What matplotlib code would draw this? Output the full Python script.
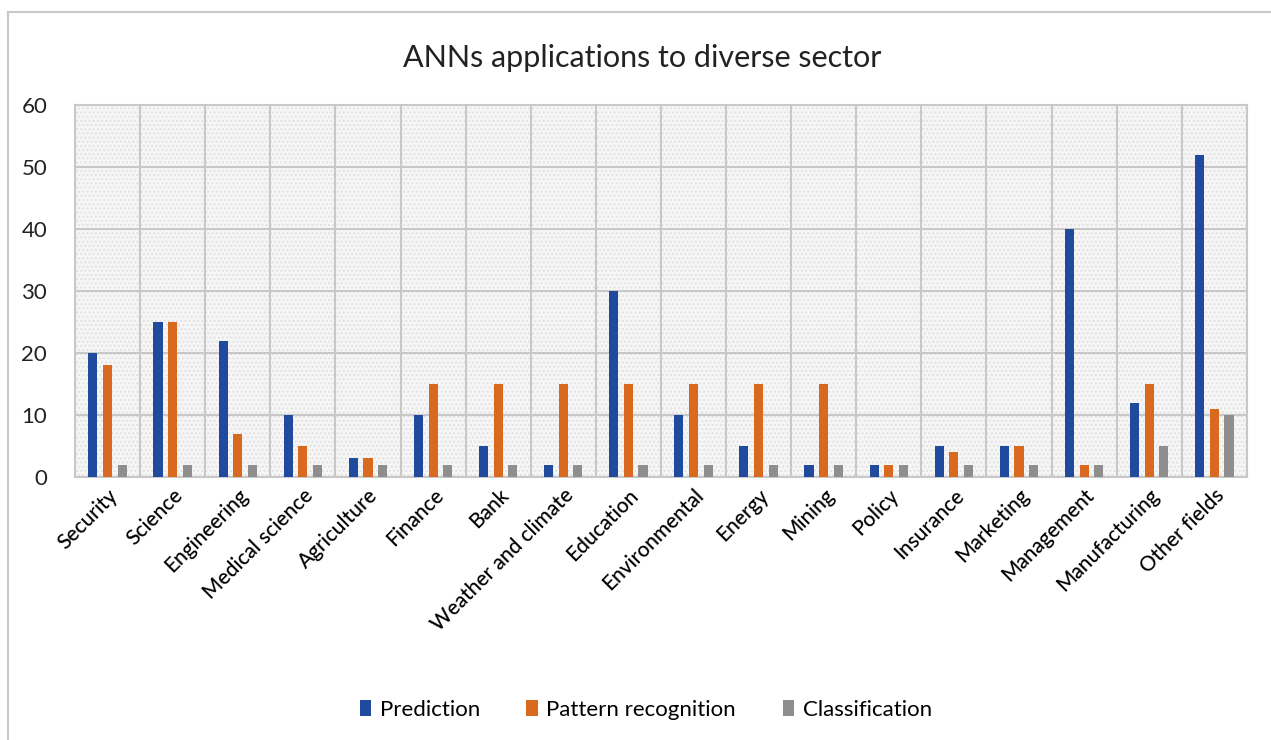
import numpy as np
import matplotlib.pyplot as plt
from matplotlib.patches import Rectangle
from matplotlib.lines import Line2D

plt.rcParams['font.family'] = ['Lato', 'DejaVu Sans']

sectors = ['Security', 'Science', 'Engineering', 'Medical science', 'Agriculture',
           'Finance', 'Bank', 'Weather and climate', 'Education', 'Environmental',
           'Energy', 'Mining', 'Policy', 'Insurance', 'Marketing', 'Management',
           'Manufacturing', 'Other fields']
prediction = [20, 25, 22, 10, 3, 10, 5, 2, 30, 10, 5, 2, 2, 5, 5, 40, 12, 52]
pattern = [18, 25, 7, 5, 3, 15, 15, 15, 15, 15, 15, 15, 2, 4, 5, 2, 15, 11]
classification = [2, 2, 2, 2, 2, 2, 2, 2, 2, 2, 2, 2, 2, 2, 2, 2, 5, 10]
series_names = ['Prediction', 'Pattern recognition', 'Classification']
colors = ['#1f4a9e', '#d8691e', '#8e8e8e']

fig = plt.figure(figsize=(12.71, 7.4), dpi=100)
ax = fig.add_axes([0.059, 0.3554, 0.922, 0.5027])

# outer frame lines (top and left, as in the screenshot)
fig.add_artist(Line2D([0.0063, 0.0063], [0.0, 0.984], transform=fig.transFigure,
                      color='#c8c8c8', lw=1.5))
fig.add_artist(Line2D([0.0063, 1.0], [0.984, 0.984], transform=fig.transFigure,
                      color='#c8c8c8', lw=1.5))

# dotted background
ax.set_facecolor('#f6f6f6')
bg = Rectangle((0, 0), 1, 1, transform=ax.transAxes, facecolor='none',
               edgecolor='#e2e2e2', hatch='....', lw=0, zorder=0)
ax.add_patch(bg)

x = np.arange(len(sectors))
w = 0.14
offs = [-0.225, 0, 0.225]
for vals, off, c, name in zip([prediction, pattern, classification], offs, colors, series_names):
    ax.bar(x + off, vals, width=w, color=c, label=name, zorder=3)

ax.set_xlim(-0.5, len(sectors) - 0.5)
ax.set_ylim(0, 60)
ax.set_yticks(range(0, 61, 10))
ax.set_xticks(x)
ax.set_xticklabels(sectors, rotation=45, ha='right', rotation_mode='anchor',
                   fontsize=15, color='black', fontweight='medium')
ax.set_xticks(np.arange(-0.5, len(sectors), 1), minor=True)
ax.tick_params(axis='both', which='both', length=0)
ax.tick_params(axis='y', labelsize=16, pad=20, labelcolor='#222222')
ax.tick_params(axis='x', pad=6)
ax.grid(True, axis='y', which='major', color='#c8c8c8', lw=1.5, zorder=1)
ax.grid(True, axis='x', which='minor', color='#c8c8c8', lw=1.5, zorder=1)
ax.grid(False, axis='x', which='major')
ax.set_axisbelow(True)
for s in ax.spines.values():
    s.set_color('#c8c8c8')
    s.set_linewidth(1.5)

fig.text(0.505, 0.922, 'ANNs applications to diverse sector', ha='center', va='center',
         fontsize=22, color='#222222')

fig.legend(loc='center', bbox_to_anchor=(0.508, 0.041), ncol=3, frameon=False,
           fontsize=16, handlelength=0.5, handleheight=0.7, columnspacing=2.1,
           handletextpad=0.4)

fig.savefig('out.png', dpi=100)
